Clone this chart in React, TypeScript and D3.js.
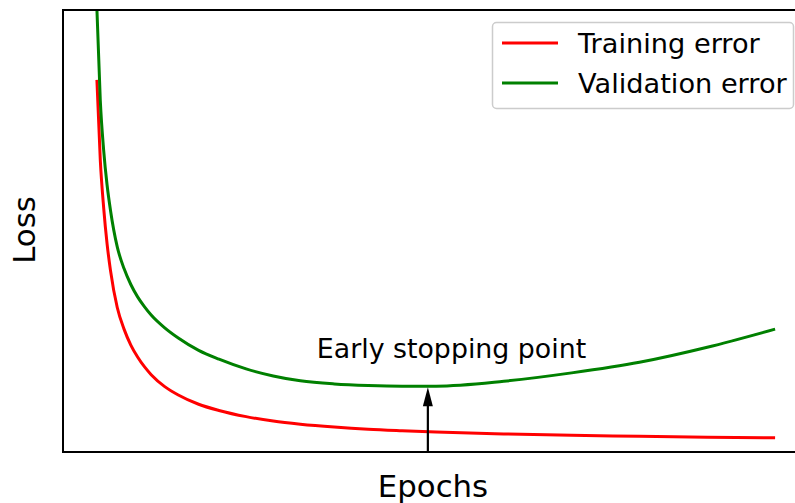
import React from "react";
import * as d3 from "d3";

const epochs = [0, 0.5, 1, 1.5, 2, 3, 4, 5, 6, 7, 8, 10, 12, 15, 18, 22, 26, 30, 35, 40, 45, 50, 60, 70, 80, 90, 100];
const trainLoss = [8.42, 6.6, 5.52, 4.71, 4.11, 3.27, 2.78, 2.42, 2.15, 1.93, 1.75, 1.48, 1.29, 1.08, 0.94, 0.8, 0.7, 0.63, 0.565, 0.515, 0.48, 0.45, 0.41, 0.38, 0.355, 0.335, 0.32];
const valLoss = [10.02, 7.95, 6.82, 6.04, 5.47, 4.64, 4.15, 3.79, 3.51, 3.29, 3.1, 2.81, 2.58, 2.3, 2.1, 1.88, 1.72, 1.61, 1.54, 1.505, 1.49, 1.49, 1.6, 1.79, 2.03, 2.37, 2.78];

const seriesNames = ["Training error", "Validation error"];
const seriesColors = ["#ff0000", "#008000"];
const stopEpoch = 48.8;
const stopLoss = 1.49;
const annotationText = "Early stopping point";
const xLabel = "Epochs";
const yLabel = "Loss";

export default function App() {
  const W = 795, H = 503;
  const left = 63, right = 809, top = 10, bottom = 452;
  const x = d3.scaleLinear().domain([-5, 105]).range([left, right]);
  const y = d3.scaleLinear().domain([0, 10]).range([bottom, top]);
  const line = d3
    .line<[number, number]>()
    .x((d) => x(d[0]))
    .y((d) => y(d[1]))
    .curve(d3.curveMonotoneX);
  const trainPts = epochs.map((e, i) => [e, trainLoss[i]] as [number, number]);
  const valPts = epochs.map((e, i) => [e, valLoss[i]] as [number, number]);
  const font = "'DejaVu Sans', sans-serif";
  const ax = x(stopEpoch);
  const tipY = y(stopLoss) + 1;
  const headLen = 19;
  const headW = 5;
  return (
    <svg
      width={W}
      height={H}
      style={{ position: "absolute", left: 0, top: 0, display: "block", background: "#fff" }}
      fontFamily={font}
    >
      <defs>
        <clipPath id="plotclip">
          <rect x={left} y={top} width={right - left} height={bottom - top} />
        </clipPath>
      </defs>
      <rect x={0} y={0} width={W} height={H} fill="#fff" />
      <g clipPath="url(#plotclip)">
        <path d={line(trainPts) || ""} fill="none" stroke={seriesColors[0]} strokeWidth={3} />
        <path d={line(valPts) || ""} fill="none" stroke={seriesColors[1]} strokeWidth={3} />
      </g>
      {/* arrow */}
      <line x1={ax} x2={ax} y1={bottom} y2={tipY + headLen - 2} stroke="#000" strokeWidth={2.2} />
      <path
        d={`M${ax},${tipY} L${ax - headW},${tipY + headLen} L${ax + headW},${tipY + headLen} Z`}
        fill="#000"
      />
      <text x={451.5} y={358} textAnchor="middle" fontSize={26.8} fill="#000">
        {annotationText}
      </text>
      {/* spines */}
      <rect x={left} y={top} width={right - left} height={bottom - top} fill="none" stroke="#000" strokeWidth={2} />
      {/* legend */}
      <rect x={492.5} y={22.5} width={301} height={86} rx={4} ry={4} fill="#fff" fillOpacity={0.8} stroke="#cccccc" strokeWidth={1.5} />
      {seriesNames.map((name, i) => (
        <g key={name}>
          <line x1={502} x2={558} y1={43 + i * 40} y2={43 + i * 40} stroke={seriesColors[i]} strokeWidth={3} />
          <text x={578} y={53 + i * 40} fontSize={27.2} fill="#000">
            {name}
          </text>
        </g>
      ))}
      <text x={433} y={497} textAnchor="middle" fontSize={30.8} fill="#000">
        {xLabel}
      </text>
      <text transform={`translate(35,230) rotate(-90)`} textAnchor="middle" fontSize={30.8} fill="#000">
        {yLabel}
      </text>
    </svg>
  );
}
